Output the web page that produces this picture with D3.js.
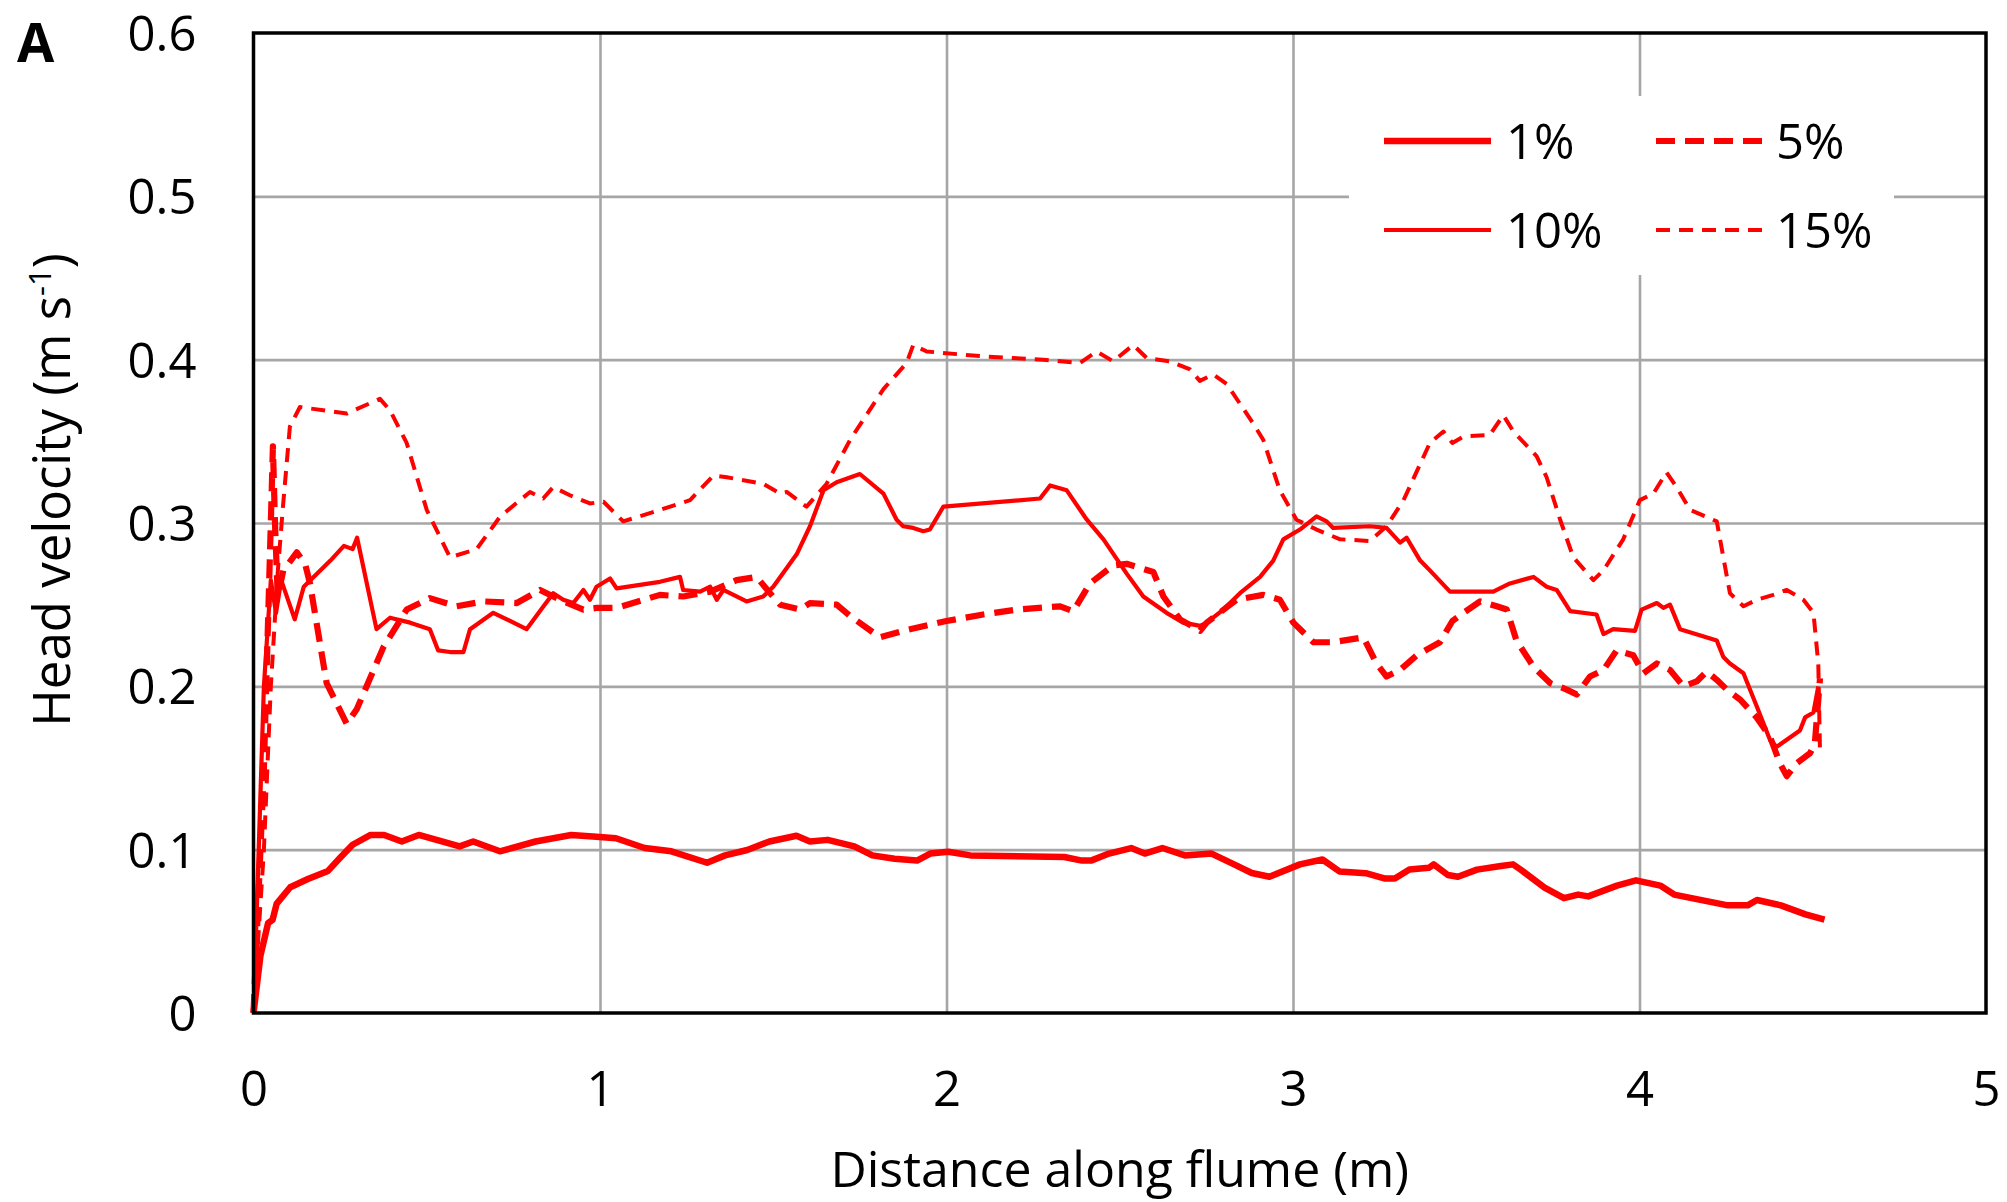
<!DOCTYPE html>
<html>
<head>
<meta charset="utf-8">
<script src="https://cdn.jsdelivr.net/npm/d3@7/dist/d3.min.js"></script>
<style>
  body { margin: 0; background: #fff; }
  text { font-family: "Open Sans", "Noto Sans", sans-serif; fill: #000; }
</style>
</head>
<body>
<svg id="chart" width="2007" height="1202"></svg>
<script>
// Axis ticks
const xTicks = [0, 1, 2, 3, 4, 5];
const yTicks = [0, 0.1, 0.2, 0.3, 0.4, 0.5, 0.6];

// Legend labels (sediment concentration)
const seriesLabels = ["1%", "5%", "10%", "15%"];

// Head velocity (m/s) against distance along flume (m): [distance, velocity]
const conc1 = [
  [0,0],[0.02,0.035],[0.042,0.055],[0.055,0.057],[0.067,0.067],[0.106,0.077],[0.157,0.082],[0.215,0.087],
  [0.25,0.095],[0.286,0.103],[0.338,0.109],[0.377,0.109],[0.428,0.105],[0.477,0.109],[0.595,0.102],[0.634,0.105],
  [0.711,0.099],[0.814,0.105],[0.917,0.109],[0.98,0.108],[1.046,0.107],[1.129,0.101],[1.206,0.099],[1.309,0.092],
  [1.361,0.0965],[1.425,0.0998],[1.489,0.105],[1.567,0.1085],[1.606,0.105],[1.657,0.106],[1.734,0.102],[1.786,0.0965],
  [1.85,0.0944],[1.915,0.0933],[1.953,0.0976],[2.005,0.0987],[2.069,0.0965],[2.34,0.0955],[2.391,0.0933],[2.417,0.0933],
  [2.469,0.0976],[2.533,0.101],[2.572,0.0976],[2.623,0.101],[2.688,0.0965],[2.765,0.0976],[2.83,0.091],[2.881,0.0857],
  [2.932,0.0834],[3.02,0.091],[3.085,0.094],[3.134,0.0867],[3.21,0.0856],[3.266,0.0823],[3.294,0.0823],[3.336,0.0878],
  [3.392,0.0889],[3.406,0.091],[3.447,0.0845],[3.476,0.0834],[3.531,0.0878],[3.6,0.09],[3.635,0.091],[3.657,0.0878],
  [3.726,0.0768],[3.782,0.0703],[3.823,0.0725],[3.852,0.0714],[3.935,0.078],[3.99,0.0812],[4.06,0.078],[4.1,0.0725],
  [4.255,0.0659],[4.312,0.0659],[4.339,0.0692],[4.408,0.0659],[4.479,0.0604],[4.534,0.0572]
];

const conc5 = [
  [0,0],[0.03,0.15],[0.05,0.3],[0.056,0.347],[0.062,0.3],[0.07,0.255],[0.086,0.271],[0.125,0.282],[0.149,0.275],
  [0.163,0.263],[0.211,0.202],[0.269,0.177],[0.298,0.186],[0.375,0.224],[0.442,0.247],[0.509,0.254],[0.586,0.249],
  [0.663,0.252],[0.76,0.251],[0.827,0.259],[0.894,0.252],[0.952,0.247],[0.99,0.248],[1.048,0.248],[1.173,0.256],
  [1.24,0.255],[1.318,0.258],[1.394,0.265],[1.452,0.267],[1.491,0.257],[1.52,0.25],[1.577,0.247],[1.606,0.251],
  [1.683,0.25],[1.722,0.243],[1.808,0.23],[1.875,0.234],[2.0,0.24],[2.106,0.244],[2.202,0.247],[2.328,0.249],
  [2.366,0.246],[2.414,0.263],[2.481,0.274],[2.52,0.275],[2.597,0.27],[2.626,0.255],[2.674,0.241],[2.732,0.234],
  [2.751,0.239],[2.837,0.253],[2.914,0.256],[2.962,0.253],[3.001,0.239],[3.059,0.227],[3.116,0.227],[3.203,0.23],
  [3.241,0.214],[3.27,0.206],[3.309,0.21],[3.357,0.219],[3.424,0.227],[3.46,0.24],[3.492,0.245],[3.54,0.252],
  [3.588,0.249],[3.617,0.247],[3.645,0.228],[3.694,0.212],[3.742,0.202],[3.79,0.198],[3.819,0.195],[3.857,0.206],
  [3.896,0.21],[3.934,0.222],[3.982,0.219],[4.011,0.208],[4.05,0.214],[4.088,0.21],[4.127,0.2],[4.165,0.203],
  [4.194,0.209],[4.223,0.204],[4.252,0.198],[4.29,0.192],[4.338,0.181],[4.377,0.169],[4.405,0.153],[4.425,0.145],
  [4.454,0.153],[4.492,0.159],[4.506,0.165],[4.521,0.205]
];

const conc10 = [
  [0,0],[0.015,0.1],[0.03,0.2],[0.05,0.265],[0.065,0.245],[0.08,0.265],[0.119,0.241],[0.145,0.261],[0.222,0.277],
  [0.261,0.286],[0.286,0.284],[0.299,0.291],[0.355,0.235],[0.394,0.242],[0.452,0.239],[0.509,0.235],[0.533,0.222],
  [0.567,0.221],[0.606,0.221],[0.625,0.235],[0.692,0.245],[0.731,0.241],[0.788,0.235],[0.837,0.249],[0.865,0.257],
  [0.894,0.253],[0.923,0.251],[0.952,0.259],[0.971,0.253],[0.99,0.261],[1.029,0.266],[1.048,0.26],[1.173,0.264],
  [1.231,0.267],[1.24,0.259],[1.289,0.258],[1.318,0.261],[1.337,0.253],[1.356,0.259],[1.423,0.252],[1.471,0.255],
  [1.5,0.261],[1.568,0.281],[1.606,0.298],[1.645,0.32],[1.683,0.325],[1.75,0.33],[1.818,0.318],[1.856,0.302],
  [1.875,0.298],[1.904,0.297],[1.933,0.295],[1.952,0.296],[1.991,0.31],[2.27,0.315],[2.299,0.323],[2.347,0.32],
  [2.405,0.302],[2.453,0.29],[2.52,0.269],[2.568,0.255],[2.635,0.245],[2.683,0.239],[2.732,0.237],[2.751,0.239],
  [2.799,0.247],[2.847,0.257],[2.905,0.267],[2.943,0.277],[2.972,0.29],[3.02,0.296],[3.068,0.304],[3.097,0.301],
  [3.116,0.297],[3.222,0.298],[3.27,0.297],[3.309,0.288],[3.328,0.291],[3.367,0.277],[3.395,0.271],[3.453,0.258],
  [3.578,0.258],[3.626,0.263],[3.694,0.267],[3.732,0.261],[3.761,0.259],[3.8,0.246],[3.876,0.244],[3.896,0.232],
  [3.924,0.235],[3.987,0.234],[4.006,0.247],[4.05,0.251],[4.069,0.248],[4.088,0.25],[4.117,0.235],[4.223,0.228],
  [4.242,0.218],[4.261,0.214],[4.3,0.208],[4.338,0.188],[4.377,0.167],[4.396,0.163],[4.463,0.173],[4.478,0.181],
  [4.502,0.184],[4.516,0.2]
];

const conc15 = [
  [0,0],[0.03,0.1],[0.05,0.2],[0.07,0.27],[0.085,0.31],[0.105,0.359],[0.134,0.371],[0.269,0.367],[0.365,0.376],
  [0.394,0.369],[0.442,0.349],[0.5,0.308],[0.567,0.279],[0.644,0.284],[0.712,0.304],[0.798,0.319],[0.836,0.315],
  [0.865,0.322],[0.913,0.317],[0.971,0.312],[1.01,0.313],[1.067,0.301],[1.144,0.306],[1.26,0.314],[1.327,0.329],
  [1.366,0.328],[1.471,0.324],[1.52,0.318],[1.539,0.319],[1.596,0.31],[1.654,0.324],[1.722,0.351],[1.818,0.382],
  [1.885,0.398],[1.904,0.409],[1.943,0.405],[2.106,0.402],[2.279,0.4],[2.385,0.398],[2.433,0.405],[2.481,0.399],
  [2.539,0.409],[2.578,0.401],[2.645,0.399],[2.703,0.394],[2.731,0.387],[2.77,0.391],[2.809,0.385],[2.885,0.361],
  [2.914,0.351],[2.962,0.32],[3.01,0.302],[3.068,0.296],[3.136,0.29],[3.222,0.289],[3.27,0.298],[3.319,0.314],
  [3.395,0.349],[3.434,0.356],[3.46,0.349],[3.492,0.353],[3.568,0.354],[3.607,0.366],[3.636,0.356],[3.703,0.341],
  [3.732,0.328],[3.771,0.302],[3.809,0.279],[3.867,0.265],[3.896,0.271],[3.953,0.29],[4.001,0.314],[4.04,0.318],
  [4.078,0.331],[4.107,0.322],[4.146,0.308],[4.223,0.301],[4.242,0.279],[4.261,0.257],[4.3,0.249],[4.338,0.253],
  [4.386,0.256],[4.425,0.259],[4.473,0.253],[4.502,0.245],[4.516,0.214],[4.521,0.159]
];

const seriesData = [conc1, conc5, conc10, conc15];

// Line styles per series
const seriesStyle = [
  { width: 6.5, dash: null },
  { width: 6.2, dash: "19 10" },
  { width: 4.2, dash: null },
  { width: 4.0, dash: "14 9" }
];

const RED = "#ff0000";
const GRID = "#a6a6a6";

const margin = { left: 253.5, right: 1986, top: 33, bottom: 1013 };
const svg = d3.select("#chart");
svg.append("rect").attr("width", 2007).attr("height", 1202).attr("fill", "#fff");

const x = d3.scaleLinear().domain([0, 5]).range([margin.left, margin.right]);
const y = d3.scaleLinear().domain([0, 0.6]).range([margin.bottom, margin.top]);
const plotW = margin.right - margin.left;
const plotH = margin.bottom - margin.top;

// Gridlines
const gridY = svg.append("g").attr("transform", `translate(${margin.left},0)`)
  .call(d3.axisLeft(y).tickValues(yTicks.filter(v => v > 0 && v < 0.6)).tickSize(-plotW).tickFormat(""));
gridY.select(".domain").remove();
gridY.selectAll("line").attr("stroke", GRID).attr("stroke-width", 2.6);

const gridX = svg.append("g").attr("transform", `translate(0,${margin.bottom})`)
  .call(d3.axisBottom(x).tickValues(xTicks.filter(v => v > 0 && v < 5)).tickSize(-plotH).tickFormat(""));
gridX.select(".domain").remove();
gridX.selectAll("line").attr("stroke", GRID).attr("stroke-width", 2.6);

// Legend background (hides gridlines beneath it)
svg.append("rect").attr("x", 1349).attr("y", 96).attr("width", 545).attr("height", 179).attr("fill", "#fff");

// Series
const line = d3.line().x(d => x(d[0])).y(d => y(d[1]));
seriesData.forEach((data, i) => {
  const st = seriesStyle[i];
  svg.append("path")
    .datum(data)
    .attr("d", line)
    .attr("fill", "none")
    .attr("stroke", RED)
    .attr("stroke-width", st.width)
    .attr("stroke-linejoin", "round")
    .attr("stroke-dasharray", st.dash);
});

// Plot frame
svg.append("rect")
  .attr("x", margin.left).attr("y", margin.top)
  .attr("width", plotW).attr("height", plotH)
  .attr("fill", "none").attr("stroke", "#000").attr("stroke-width", 3.5);

// Tick labels
const yAxis = svg.append("g").attr("transform", `translate(${margin.left},0)`)
  .call(d3.axisLeft(y).tickValues(yTicks).tickSize(0).tickPadding(57)
    .tickFormat(d => d === 0 ? "0" : d3.format(".1f")(d)));
yAxis.select(".domain").remove();
yAxis.selectAll("text").attr("font-size", 49).attr("font-family", "'Open Sans', sans-serif")
  .attr("fill", "#000").attr("dy", "0.36em");

const xAxis = svg.append("g").attr("transform", `translate(0,${margin.bottom})`)
  .call(d3.axisBottom(x).tickValues(xTicks).tickSize(0).tickPadding(0).tickFormat(d3.format("d")));
xAxis.select(".domain").remove();
xAxis.selectAll("text").attr("font-size", 49).attr("font-family", "'Open Sans', sans-serif")
  .attr("fill", "#000").attr("dy", null).attr("y", 93);

// Axis titles
svg.append("text")
  .attr("x", (margin.left + margin.right) / 2).attr("y", 1187)
  .attr("text-anchor", "middle").attr("font-size", 50)
  .text("Distance along flume (m)");

const yTitle = svg.append("text")
  .attr("transform", "translate(70,490) rotate(-90)")
  .attr("text-anchor", "middle").attr("font-size", 51);
yTitle.append("tspan").text("Head velocity (m s");
yTitle.append("tspan").attr("font-size", 31).attr("dy", -19).text("-1");
yTitle.append("tspan").attr("dy", 19).text(")");

// Panel letter
svg.append("text").attr("x", 17).attr("y", 62)
  .attr("font-size", 54).attr("font-weight", 700).text("A");

// Legend (two columns, two rows)
const legendPos = [
  { x1: 1384, x2: 1491, tx: 1506, y: 141 },
  { x1: 1656, x2: 1764, tx: 1776, y: 141 },
  { x1: 1384, x2: 1491, tx: 1506, y: 230 },
  { x1: 1656, x2: 1764, tx: 1776, y: 230 }
];
seriesLabels.forEach((lab, i) => {
  const p = legendPos[i], st = seriesStyle[i];
  svg.append("line")
    .attr("x1", p.x1).attr("x2", p.x2).attr("y1", p.y).attr("y2", p.y)
    .attr("stroke", RED).attr("stroke-width", st.width)
    .attr("stroke-dasharray", st.dash);
  svg.append("text").attr("x", p.tx).attr("y", p.y).attr("dy", "0.36em")
    .attr("font-size", 49).text(lab);
});
</script>
</body>
</html>
